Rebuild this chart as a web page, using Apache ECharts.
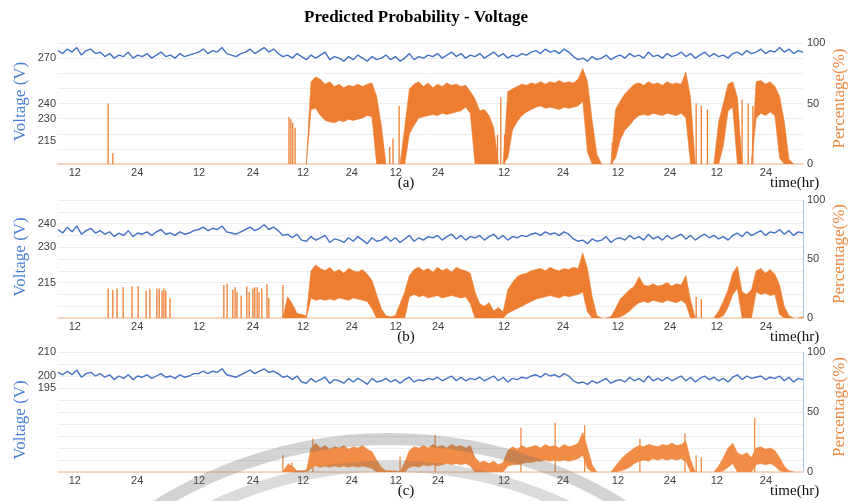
<!DOCTYPE html>
<html>
<head>
<meta charset="utf-8">
<script src="https://cdn.jsdelivr.net/npm/echarts@6/dist/echarts.min.js"></script>
<style>
  html, body { margin: 0; padding: 0; background: #fff; }
  #chart { width: 850px; height: 501px; }
</style>
</head>
<body>
<div id="chart"></div>
<script>
// x positions of the hour labels (sample index) and their text
const tickPos = [3.6, 16.9, 30.1, 41.6, 52.3, 62.7, 72.1, 81.1, 95.2, 107.8, 119.5, 130.6, 140.6, 151.1];
const tickLabels = ['12', '24', '12', '24', '12', '24', '12', '24', '12', '24', '12', '24', '12', '24'];

// voltage (V), one value per sample
const voltA = [
  275, 273, 276, 274, 277, 272, 275, 276, 273, 274,
  271, 273, 270, 272, 271, 274, 270, 272, 271, 273,
  270, 272, 274, 271, 272, 270, 273, 271, 272, 273,
  274, 276, 273, 275, 274, 277, 273, 272, 271, 273,
  274, 276, 273, 275, 277, 274, 276, 273, 271, 272,
  270, 273, 271, 269, 272, 270, 272, 274, 269, 271,
  270, 268, 271, 269, 272, 270, 268, 271, 269, 270,
  272, 269, 271, 268, 270, 273, 269, 271, 270, 272,
  271, 273, 270, 272, 274, 271, 273, 270, 272, 271,
  273, 270, 272, 274, 271, 273, 270, 272, 271, 273,
  272, 274, 275, 273, 276, 274, 275, 273, 276, 274,
  271, 269, 270, 268, 271, 269, 270, 272, 269, 271,
  272, 270, 273, 271, 272, 270, 274, 271, 272, 270,
  273, 271, 272, 274, 271, 273, 270, 272, 274, 271,
  273, 271, 272, 270, 273, 274, 272, 275, 273, 274,
  276, 273, 275, 274, 277, 274, 276, 273, 275, 274
];
const voltB = [
  237.5, 236, 238.5, 236.5, 239, 235.5, 237, 238, 236, 237,
  235.5, 236.5, 234.5, 236, 235, 237, 234.5, 236, 235.5, 236.5,
  235, 236.5, 237.5, 235.5, 236, 235, 236.5, 235.5, 236, 237,
  237.5, 238.5, 237, 238, 237.5, 239, 236.5, 236, 235.5, 236.5,
  237.5, 238.5, 237, 238, 239.5, 237.5, 238.5, 237, 235, 235.5,
  234, 235.5, 233, 232.5, 234.5, 233, 234, 235, 232, 233.5,
  233, 232, 234, 232.5, 234.5, 233, 231.5, 234, 232.5, 233,
  234.5, 232.5, 234, 232, 233.5, 235, 232.5, 234, 233, 234.5,
  234, 235, 233, 234.5, 235.5, 233.5, 235, 233, 234.5, 234,
  235, 233, 234.5, 235.5, 233.5, 235, 233, 234.5, 234, 235,
  234.5, 235.5, 236, 235, 236.5, 235.5, 236, 235, 236.5, 235.5,
  233.5, 232.5, 233, 231.5, 233.5, 232.5, 233, 234.5, 232, 233.5,
  234, 233, 235, 233.5, 234.5, 233, 235.5, 233.5, 234.5, 233,
  235, 233.5, 234.5, 235.5, 233.5, 235, 233, 234.5, 235.5, 234,
  235, 233.5, 234.5, 233, 235, 236, 234.5, 236.5, 235, 236,
  237, 235, 236.5, 236, 237.5, 235.5, 237, 235, 236.5, 236
];
const voltC = [
  201.5, 200.5, 202, 200.5, 202.5, 199.5, 201, 201.5, 200, 201,
  199.5, 200.5, 198.5, 200, 199, 200.5, 198.5, 200, 199.5, 200.5,
  199, 200, 201, 199.5, 200, 199, 200.5, 199.5, 200, 201,
  201, 202, 201, 202, 201.5, 203, 200.5, 200, 199.5, 200.5,
  201.5, 202.5, 201, 202, 203, 201.5, 202, 201, 199.5, 200,
  198.5, 200, 197.5, 197, 199, 197.5, 198.5, 199.5, 197, 198.5,
  198, 197, 199, 197.5, 199, 198, 196.5, 199, 197.5, 198,
  199, 197.5, 198.5, 197, 198.5, 199.5, 197.5, 198.5, 198, 199,
  198.5, 199.5, 198, 199, 200, 198, 199.5, 198, 199, 198.5,
  199.5, 198, 199, 200, 198, 199.5, 197.5, 199, 198.5, 199.5,
  199, 200, 200.5, 199.5, 201, 200, 200.5, 199.5, 201, 200,
  198, 197, 197.5, 196.5, 198, 197, 198, 199, 197, 198,
  198.5, 197.5, 199.5, 198, 199, 197.5, 200, 198, 199, 198,
  199.5, 198, 199, 200, 198, 199.5, 197.5, 199, 200, 198.5,
  199.5, 198, 199, 197.5, 199.5, 200.5, 198.5, 200, 199, 199.5,
  200, 198.5, 199.5, 199, 200, 198, 199.5, 197.5, 199, 198.5
];

// predicted probability (%): lower and upper edge of the dense trace per sample
const lowA = [
  0, 0, 0, 0, 0, 0, 0, 0, 0, 0,
  0, 0, 0, 0, 0, 0, 0, 0, 0, 0,
  0, 0, 0, 0, 0, 0, 0, 0, 0, 0,
  0, 0, 0, 0, 0, 0, 0, 0, 0, 0,
  0, 0, 0, 0, 0, 0, 0, 0, 0, 0,
  0, 0, 0, 0, 45, 46, 40, 36, 35, 34,
  36, 35, 37, 36, 37, 38, 40, 39, 0, 0,
  0, 0, 0, 0, 0, 25, 32, 38, 39, 40,
  41, 40, 42, 41, 42, 43, 44, 47, 42, 0,
  0, 0, 0, 0, 0, 0, 5, 28, 35, 40,
  43, 45, 47, 48, 46, 47, 46, 45, 47, 46,
  47, 48, 52, 10, 0, 0, 0, 0, 0, 5,
  20, 28, 32, 37, 40, 41, 40, 42, 41, 40,
  42, 41, 40, 42, 38, 0, 0, 0, 0, 0,
  0, 0, 15, 44, 47, 0, 0, 0, 0, 38,
  42, 40, 43, 40, 5, 0, 0, 0, 0, 0
];
const highA = [
  0, 0, 0, 0, 0, 0, 0, 0, 0, 0,
  0, 0, 0, 0, 0, 0, 0, 0, 0, 0,
  0, 0, 0, 0, 0, 0, 0, 0, 0, 0,
  0, 0, 0, 0, 0, 0, 0, 0, 0, 0,
  0, 0, 0, 0, 0, 0, 0, 0, 0, 0,
  0, 0, 0, 0, 68, 72, 70, 66, 68, 64,
  66, 63, 65, 64, 66, 64, 66, 67, 56, 32,
  0, 0, 0, 0, 30, 62, 66, 68, 64, 67,
  63, 66, 64, 67, 65, 66, 64, 65, 60, 54,
  44, 45, 40, 30, 0, 0, 60, 62, 64, 66,
  65, 67, 66, 68, 66, 68, 67, 69, 67, 68,
  67, 70, 79, 68, 36, 8, 0, 0, 0, 45,
  52, 58, 62, 66, 67, 65, 68, 66, 67, 65,
  68, 66, 67, 66, 76, 55, 0, 0, 0, 0,
  0, 35, 50, 66, 68, 55, 0, 0, 0, 68,
  69, 66, 68, 64, 56, 35, 4, 0, 0, 0
];
const lowB = [
  0, 0, 0, 0, 0, 0, 0, 0, 0, 0,
  0, 0, 0, 0, 0, 0, 0, 0, 0, 0,
  0, 0, 0, 0, 0, 0, 0, 0, 0, 0,
  0, 0, 0, 0, 0, 0, 0, 0, 0, 0,
  0, 0, 0, 0, 0, 0, 0, 0, 0, 0,
  0, 0, 0, 0, 17, 15, 16, 15, 16, 15,
  17, 16, 15, 17, 16, 15, 14, 8, 0, 0,
  0, 0, 0, 0, 0, 18, 20, 18, 19, 17,
  18, 19, 17, 18, 19, 18, 17, 18, 12, 0,
  0, 0, 0, 0, 0, 0, 4, 6, 8, 10,
  12, 14, 16, 17, 18, 19, 18, 17, 19, 18,
  19, 20, 22, 5, 0, 0, 0, 0, 0, 0,
  1, 3, 6, 10, 13, 14, 13, 15, 14, 13,
  15, 14, 13, 15, 12, 0, 0, 0, 0, 0,
  0, 0, 2, 9, 20, 25, 0, 0, 0, 22,
  20, 21, 19, 20, 3, 0, 0, 0, 0, 0
];
const highB = [
  0, 0, 0, 0, 0, 0, 0, 0, 0, 0,
  0, 0, 0, 0, 0, 0, 0, 0, 0, 0,
  0, 0, 0, 0, 0, 0, 0, 0, 0, 0,
  0, 0, 0, 0, 0, 0, 0, 0, 0, 0,
  0, 0, 0, 0, 0, 0, 0, 0, 0, 18,
  12, 4, 3, 2, 40, 45, 42, 40, 43, 39,
  41, 38, 42, 40, 39, 41, 37, 32, 20, 8,
  2, 1, 2, 12, 22, 36, 41, 43, 40, 42,
  39, 43, 40, 42, 39, 43, 41, 40, 38, 22,
  12, 10, 13, 6, 9, 5, 24, 30, 35, 37,
  38, 40, 41, 42, 40, 43, 41, 40, 42, 41,
  43, 42, 55, 42, 18, 2, 0, 0, 1, 8,
  16, 20, 24, 27, 35, 28, 27, 29, 27, 28,
  30, 27, 29, 28, 36, 15, 0, 0, 0, 0,
  0, 6, 14, 24, 38, 44, 22, 20, 24, 40,
  42, 38, 41, 37, 28, 10, 2, 0, 0, 1
];
const lowC = [
  0, 0, 0, 0, 0, 0, 0, 0, 0, 0,
  0, 0, 0, 0, 0, 0, 0, 0, 0, 0,
  0, 0, 0, 0, 0, 0, 0, 0, 0, 0,
  0, 0, 0, 0, 0, 0, 0, 0, 0, 0,
  0, 0, 0, 0, 0, 0, 0, 0, 0, 0,
  0, 0, 0, 0, 3, 5, 4, 5, 4, 5,
  4, 5, 4, 5, 4, 5, 4, 3, 0, 0,
  0, 0, 0, 0, 0, 4, 5, 4, 6, 5,
  6, 5, 6, 7, 6, 7, 6, 7, 5, 0,
  0, 0, 0, 0, 0, 0, 5, 6, 6, 7,
  8, 8, 9, 9, 10, 9, 10, 9, 10, 9,
  10, 11, 14, 3, 0, 0, 0, 0, 0, 0,
  1, 2, 4, 7, 9, 10, 9, 11, 10, 11,
  10, 11, 10, 11, 9, 0, 0, 0, 0, 0,
  0, 0, 1, 4, 7, 0, 0, 0, 0, 6,
  7, 6, 7, 5, 1, 0, 0, 0, 0, 0
];
const highC = [
  0, 0, 0, 0, 0, 0, 0, 0, 0, 0,
  0, 0, 0, 0, 0, 0, 0, 0, 0, 0,
  0, 0, 0, 0, 0, 0, 0, 0, 0, 0,
  0, 0, 0, 0, 0, 0, 0, 0, 0, 0,
  0, 0, 0, 0, 0, 0, 0, 0, 0, 6,
  5, 1, 1, 1, 20, 24, 20, 22, 19, 21,
  20, 22, 19, 21, 20, 22, 19, 17, 10, 4,
  1, 1, 1, 0, 8, 18, 21, 20, 22, 20,
  23, 21, 22, 20, 23, 21, 22, 20, 22, 12,
  8, 9, 7, 9, 6, 8, 18, 21, 19, 22,
  20, 21, 22, 20, 23, 21, 22, 20, 23, 21,
  22, 24, 33, 20, 6, 0, 0, 0, 0, 5,
  10, 14, 17, 20, 22, 21, 23, 22, 21, 23,
  22, 24, 22, 23, 26, 10, 0, 0, 0, 0,
  0, 5, 12, 20, 24, 16, 14, 16, 12, 20,
  21, 19, 20, 18, 12, 5, 1, 0, 0, 0
];

// isolated thin spikes (position in samples, height in %)
const spikePosA = [10.7, 11.7, 49.3, 49.7, 50.1, 50.6, 69.4, 70.8, 71.5, 72.8, 93.8, 94.5, 95.3, 118.3, 136.2, 137.3, 138.6, 146.0, 147.3, 148.3];
const spikeValA = [50, 9, 39, 37, 34, 30, 17, 14, 21, 48, 24, 55, 24, 18, 50, 48, 45, 53, 50, 48];
const spikePosB = [10.7, 11.7, 12.6, 13.9, 15.8, 17.1, 18.8, 19.6, 21.1, 21.6, 22.2, 22.6, 23.0, 23.9,
  35.4, 36.1, 37.3, 37.8, 38.2, 39.1, 40.3, 40.8, 41.6, 42.0, 42.5, 42.9, 43.5, 44.6, 45.0, 48.0, 136.2, 137.3];
const spikeValB = [25, 24, 25, 26, 27, 27, 23, 25, 25, 25, 23, 25, 23, 17,
  28, 29, 24, 26, 22, 19, 27, 22, 25, 26, 26, 22, 25, 29, 17, 28, 18, 16];
const spikePosC = [48.0, 49.3, 49.9, 54.4, 73.0, 80.5, 98.8, 106.1, 112.4, 124.2, 133.8, 136.2, 137.3, 148.7];
const spikeValC = [14, 7, 8, 28, 13, 31, 37, 41, 39, 28, 32, 14, 12, 45];

const voltTicks = [[270, 240, 230, 215], [240, 230, 215], [210, 200, 195]];
const panelNames = ['(a)', '(b)', '(c)'];

const chart = echarts.init(document.getElementById('chart'));

const blue = '#4472C4';
const orange = '#ED7D31';
const serif = 'Liberation Serif';
const tickFont = { color: '#404040', fontSize: 11, fontFamily: 'Liberation Sans' };

const panels = [
  { top: 43, height: 121, vMin: 200, vMax: 280, pStep: 12.5, volt: voltA, low: lowA, high: highA, sp: spikePosA, sv: spikeValA, fill: orange, rightLine: false },
  { top: 200, height: 118, vMin: 200, vMax: 250, pStep: 10, volt: voltB, low: lowB, high: highB, sp: spikePosB, sv: spikeValB, fill: orange, rightLine: true },
  { top: 352, height: 120, vMin: 160, vMax: 210, pStep: 10, volt: voltC, low: lowC, high: highC, sp: spikePosC, sv: spikeValC, fill: '#F08C45', rightLine: true }
];

// contiguous stretches where the trace is above zero, padded by one sample each side
function runsOf(high) {
  const runs = [];
  let s = -1;
  for (let i = 0; i <= high.length; i++) {
    const on = i < high.length && high[i] > 0;
    if (on && s < 0) s = i;
    if (!on && s >= 0) {
      runs.push([Math.max(s - 1, 0), Math.min(i, high.length - 1)]);
      s = -1;
    }
  }
  return runs;
}

const grid = [], xAxis = [], yAxis = [], series = [], graphic = [];

panels.forEach((p, k) => {
  grid.push({ left: 58, right: 47, top: p.top, height: p.height });

  xAxis.push({
    type: 'value', gridIndex: k, min: 0, max: 159,
    splitLine: { show: false },
    axisTick: { show: false },
    axisLine: { lineStyle: { color: '#F8CBAD', width: 1.5 } },
    axisLabel: {
      ...tickFont, margin: 3,
      customValues: tickPos,
      formatter: v => {
        const j = tickPos.findIndex(t => Math.abs(t - v) < 1e-6);
        return j < 0 ? '' : tickLabels[j];
      }
    }
  });

  const shown = voltTicks[k];
  yAxis.push({
    type: 'value', gridIndex: k, position: 'left',
    min: p.vMin, max: p.vMax, interval: 5,
    splitLine: { show: false },
    axisLine: { show: false },
    axisTick: { show: false },
    axisLabel: { ...tickFont, margin: 2, formatter: v => shown.includes(v) ? String(v) : '' }
  });
  yAxis.push({
    type: 'value', gridIndex: k, position: 'right',
    min: 0, max: 100, interval: p.pStep,
    splitLine: { show: true, lineStyle: { color: '#EDEDED', width: 1 } },
    axisLine: { show: p.rightLine, lineStyle: { color: '#A9C4EB', width: 1 } },
    axisTick: { show: false },
    axisLabel: { ...tickFont, margin: 4, formatter: v => (v === 0 || v === 50 || v === 100) ? String(v) : '' }
  });

  // filled band between lower and upper edge, one polygon per stretch
  series.push({
    type: 'custom', xAxisIndex: k, yAxisIndex: 2 * k + 1, clip: true, z: 2,
    data: runsOf(p.high).map(r => [r[0], r[1], 100]),
    encode: { x: [0, 1], y: 2 },
    renderItem: (params, api) => {
      const s = api.value(0), e = api.value(1);
      const pts = [];
      for (let i = s; i <= e; i++) pts.push(api.coord([i, p.high[i]]));
      for (let i = e; i >= s; i--) pts.push(api.coord([i, p.low[i]]));
      return {
        type: 'polygon',
        shape: { points: pts },
        style: { fill: p.fill, stroke: p.fill, lineWidth: 0.6 }
      };
    }
  });
  series.push({
    type: 'custom', xAxisIndex: k, yAxisIndex: 2 * k + 1, clip: true, z: 2,
    data: p.sp.map((x, j) => [x, p.sv[j]]),
    encode: { x: 0, y: 1 },
    renderItem: (params, api) => {
      const a = api.coord([api.value(0), 0]);
      const b = api.coord([api.value(0), api.value(1)]);
      return {
        type: 'line',
        shape: { x1: a[0], y1: a[1], x2: b[0], y2: b[1] },
        style: { stroke: p.fill, lineWidth: 1.3 }
      };
    }
  });
  series.push({
    type: 'line', xAxisIndex: k, yAxisIndex: 2 * k, z: 3,
    data: p.volt.map((v, i) => [i, v]),
    showSymbol: false,
    lineStyle: { color: blue, width: 1.4 }
  });

  // side titles and captions
  const mid = p.top + p.height / 2;
  graphic.push({
    type: 'text', x: 21, y: k === 2 ? mid + 8 : mid - 2, rotation: Math.PI / 2,
    style: { text: 'Voltage (V)', fill: '#4A7FD4', font: '17px "' + serif + '"', textAlign: 'center', textVerticalAlign: 'middle' }
  });
  graphic.push({
    type: 'text', x: 840, y: mid - 5, rotation: Math.PI / 2,
    style: { text: 'Percentage(%)', fill: '#F08A45', font: '17px "' + serif + '"', textAlign: 'center', textVerticalAlign: 'middle' }
  });
  const capY = p.top + p.height + 19;
  graphic.push({
    type: 'text', x: 406, y: capY,
    style: { text: panelNames[k], fill: '#111', font: '15px "' + serif + '"', textAlign: 'center', textVerticalAlign: 'middle' }
  });
  graphic.push({
    type: 'text', x: 770, y: capY,
    style: { text: 'time(hr)', fill: '#111', font: '15px "' + serif + '"', textAlign: 'left', textVerticalAlign: 'middle' }
  });
});

// grey arcs lying over the bottom panel
graphic.push({
  type: 'arc', z: 100, silent: true,
  shape: { cx: 390, cy: 880, r: 441, startAngle: -2.3, endAngle: -0.85, clockwise: true },
  style: { stroke: 'rgba(110,110,110,0.3)', lineWidth: 12, fill: null }
});
graphic.push({
  type: 'arc', z: 100, silent: true,
  shape: { cx: 390, cy: 880, r: 414, startAngle: -2.3, endAngle: -0.85, clockwise: true },
  style: { stroke: 'rgba(110,110,110,0.25)', lineWidth: 11, fill: null }
});

chart.setOption({
  animation: false,
  backgroundColor: '#fff',
  title: {
    text: 'Predicted Probability - Voltage',
    left: 299, top: 4,
    textStyle: { fontFamily: serif, fontWeight: 'bold', fontSize: 17, color: '#000' }
  },
  grid, xAxis, yAxis, series, graphic
});
</script>
</body>
</html>
